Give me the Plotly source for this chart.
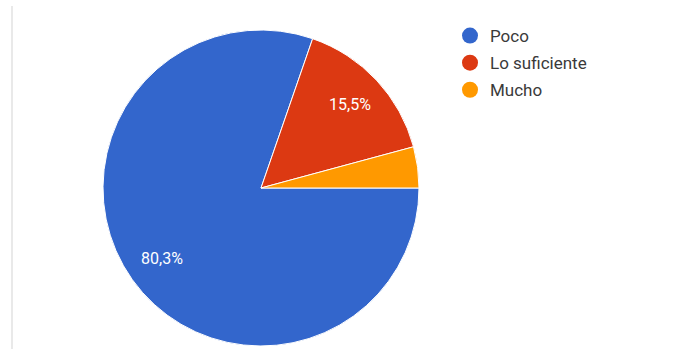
import math
import plotly.graph_objects as go

# Survey answers and their shares (percent)
labels = ["Poco", "Lo suficiente", "Mucho"]
values = [80.3, 15.5, 4.2]
colors = ["#3366CC", "#DC3912", "#FF9900"]
show_pct = [True, True, False]

W, H = 688, 349
cx, cy, r = 261, 188, 158
label_radius = 0.77  # fraction of pie radius where percent labels sit

fig = go.Figure()

fig.add_trace(go.Pie(
    labels=labels,
    values=values,
    sort=False,
    direction="clockwise",
    rotation=90,
    marker=dict(colors=colors, line=dict(color="white", width=1)),
    textinfo="none",
    hoverinfo="label+percent",
    showlegend=False,
    domain=dict(
        x=[(cx - r) / W, (cx + r) / W],
        y=[(H - cy - r) / H, (H - cy + r) / H],
    ),
))

# Percent labels placed at each slice's mid-angle (slices start at 3 o'clock, clockwise)
total = sum(values)
cum = 0.0
annotations = []
for v, show in zip(values, show_pct):
    frac = v / total
    mid = -(cum + frac / 2) * 2 * math.pi
    cum += frac
    if not show:
        continue
    px = cx + label_radius * r * math.cos(mid)
    py = cy - label_radius * r * math.sin(mid)
    annotations.append(dict(
        x=px / W, y=1 - py / H, xref="paper", yref="paper",
        xanchor="center", yanchor="middle",
        text=f"{frac * 100:.1f}%".replace(".", ","),
        showarrow=False,
        font=dict(family="Roboto", size=16, color="white"),
    ))

# Legend entries with round markers
for i, (lab, col) in enumerate(zip(labels, colors)):
    fig.add_trace(go.Scatter(
        x=[None], y=[None], mode="markers", name=lab,
        marker=dict(symbol="circle", size=16, color=col),
        legendgroup=str(i), showlegend=True,
    ))

fig.update_layout(
    width=W, height=H,
    margin=dict(l=0, r=0, t=0, b=0),
    paper_bgcolor="white",
    plot_bgcolor="white",
    xaxis=dict(visible=False),
    yaxis=dict(visible=False),
    annotations=annotations,
    legend=dict(
        x=(490 - 40) / W, y=1 - 18 / H,
        xanchor="left", yanchor="top",
        font=dict(family="Roboto", size=17, color="#3a3a3a"),
        tracegroupgap=2,
        bgcolor="rgba(0,0,0,0)",
    ),
    shapes=[dict(
        type="line", xref="paper", yref="paper",
        x0=12 / W, x1=12 / W, y0=0, y1=1 - 6 / H,
        line=dict(color="#e2e2e2", width=1.5),
    )],
)

fig.write_html("out.html")
